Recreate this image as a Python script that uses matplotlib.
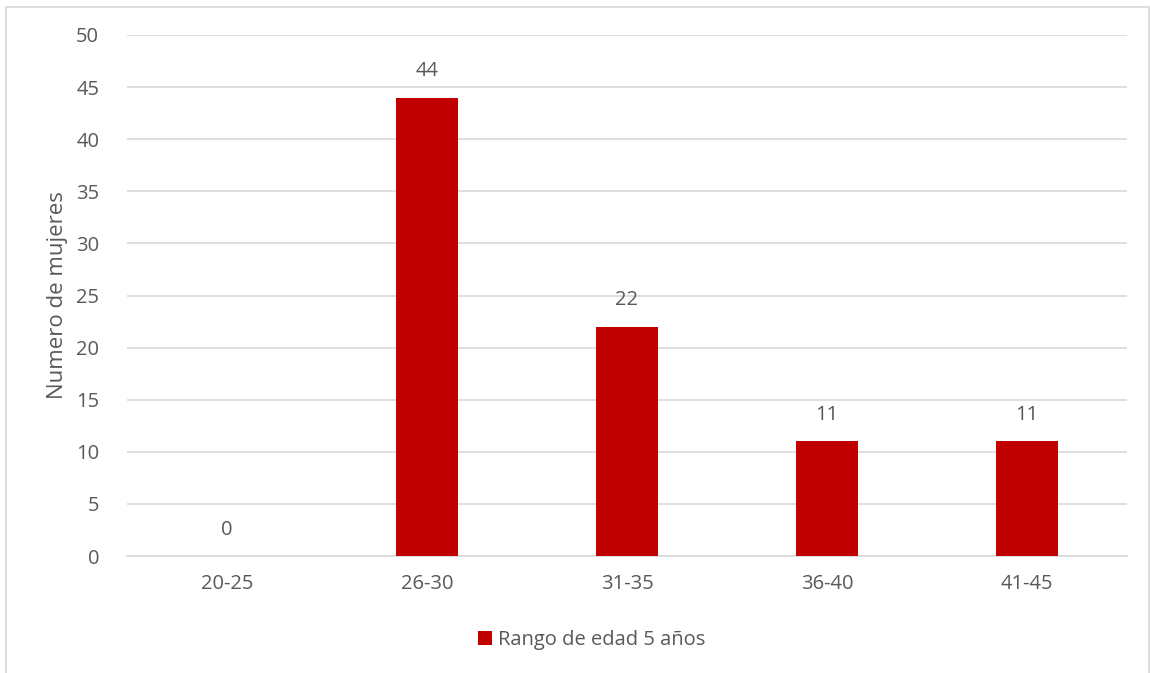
import matplotlib.pyplot as plt
from matplotlib.patches import Rectangle

# data
categories = ["20-25", "26-30", "31-35", "36-40", "41-45"]
values = [0, 44, 22, 11, 11]
series_name = "Rango de edad 5 años"
y_label = "Numero de mujeres"

BAR_COLOR = "#C00000"
TEXT_COLOR = "#595959"
GRID_COLOR = "#D9D9D9"

plt.rcParams["font.family"] = ["Open Sans", "DejaVu Sans"]

fig = plt.figure(figsize=(11.5, 6.73), dpi=100)
ax = fig.add_axes([127 / 1150, 1 - 556 / 673, 1000 / 1150, (556 - 35) / 673])

x = range(len(categories))
ax.bar(x, values, width=0.31, color=BAR_COLOR, label=series_name, zorder=3)

for xi, v in zip(x, values):
    ax.annotate(str(v), (xi, v), xytext=(0, 19), textcoords="offset points",
                ha="center", va="center", fontsize=14.5, color=TEXT_COLOR)

ax.set_xlim(-0.5, len(categories) - 0.5)
ax.set_ylim(0, 50)
ax.set_yticks(range(0, 51, 5))
ax.set_xticks(list(x))
ax.set_xticklabels(categories)
ax.tick_params(axis="both", length=0, labelsize=14.5, colors=TEXT_COLOR)
ax.tick_params(axis="y", pad=20)
ax.tick_params(axis="x", pad=13)
ax.yaxis.grid(True, color=GRID_COLOR, linewidth=1.2, zorder=0)
for side in ["top", "right", "left"]:
    ax.spines[side].set_visible(False)
ax.spines["bottom"].set_color(GRID_COLOR)
ax.spines["bottom"].set_linewidth(1.2)

ax.set_ylabel(y_label, fontsize=16, color=TEXT_COLOR, labelpad=6)

leg = fig.legend(loc="center", bbox_to_anchor=(592 / 1150, 1 - 640 / 673),
                 frameon=False, fontsize=14.5, handlelength=0.7, handleheight=0.7,
                 handletextpad=0.3)
for t in leg.get_texts():
    t.set_color(TEXT_COLOR)

# outer chart frame (light gray)
fig.patches.append(Rectangle((6 / 1150, -0.01), 1143 / 1150, 1 - 7 / 673 + 0.01,
                             transform=fig.transFigure, fill=False,
                             edgecolor=GRID_COLOR, linewidth=1.2))

fig.savefig("out.png", dpi=100)
